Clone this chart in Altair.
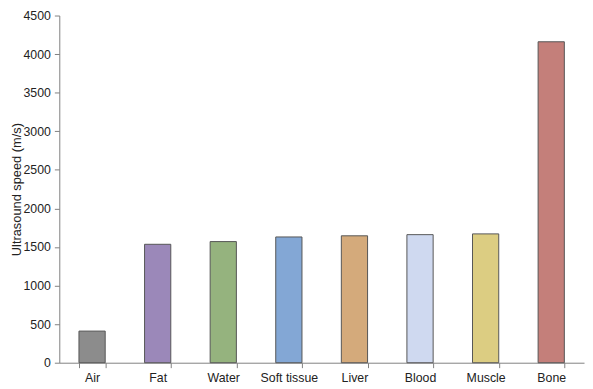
import altair as alt
import pandas as pd

tissues = ["Air", "Fat", "Water", "Soft tissue", "Liver", "Blood", "Muscle", "Bone"]
speeds = [410, 1535, 1570, 1630, 1645, 1660, 1670, 4160]
colors = ["#8c8c8c", "#9b88b9", "#95b37e", "#83a7d5", "#d4aa7b", "#cfd9f0", "#dccd82", "#c47f7a"]
y_ticks = [0, 500, 1000, 1500, 2000, 2500, 3000, 3500, 4000, 4500]

df = pd.DataFrame({"tissue": tissues, "speed": speeds})

font = "Liberation Sans"

chart = alt.Chart(df).mark_bar(stroke="#555555", strokeWidth=1).encode(
    x=alt.X("tissue:N", sort=tissues,
            scale=alt.Scale(paddingInner=0.6, paddingOuter=0.3),
            axis=alt.Axis(title=None, labelAngle=0, tickBand="extent",
                          tickSize=5, labelPadding=4, labelFontSize=12.5,
                          labelFont=font, labelColor="#222222",
                          domainColor="#808080", tickColor="#808080")),
    y=alt.Y("speed:Q", scale=alt.Scale(domain=[0, 4500], nice=False),
            axis=alt.Axis(title="Ultrasound speed (m/s)", values=y_ticks, format="d",
                          grid=False, tickSize=5, labelPadding=4,
                          labelFontSize=12.5, labelFont=font, labelColor="#222222",
                          titleFont=font, titleFontSize=13, titleFontWeight="normal",
                          titleColor="#222222", titleX=-36,
                          domainColor="#808080", tickColor="#808080")),
    color=alt.Color("tissue:N", sort=tissues,
                    scale=alt.Scale(domain=tissues, range=colors), legend=None),
).properties(
    width=532, height=352,
    autosize=alt.AutoSizeParams(type="none"),
    padding={"left": 52, "top": 5, "right": 1, "bottom": 24},
).configure_view(stroke=None)

chart.save("out.html", embed_options={"renderer": "svg", "actions": False})
